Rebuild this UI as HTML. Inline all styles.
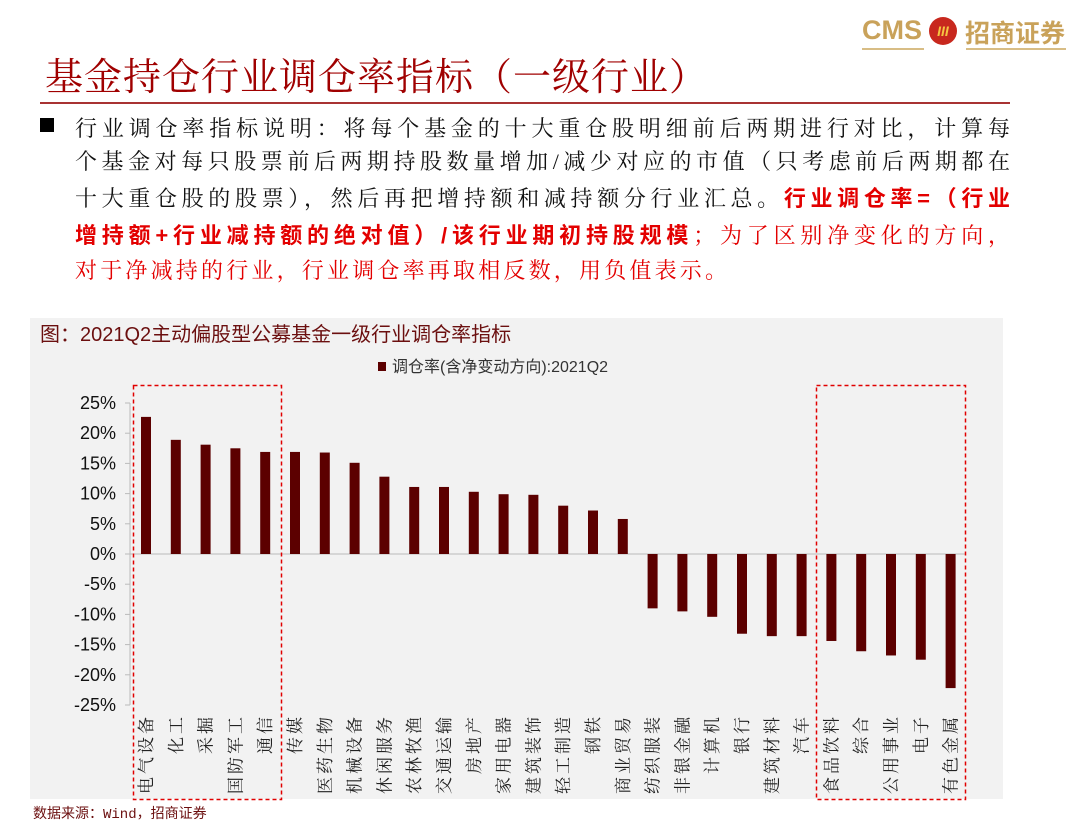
<!DOCTYPE html>
<html><head><meta charset="utf-8"><style>
body{margin:0;width:1080px;height:836px;background:#fff;position:relative;overflow:hidden;font-family:"Liberation Sans","Noto Sans CJK SC",sans-serif}
.t{position:absolute;white-space:nowrap}
.ln{position:absolute;left:75px;width:935px;font-size:22px;text-align:justify;text-align-last:justify;white-space:nowrap;color:#111;font-family:"Liberation Serif","Noto Serif CJK SC",serif}
.r{color:#e30000}
.b{font-weight:bold;font-family:"Liberation Sans","Noto Sans CJK SC",sans-serif}
</style></head><body>
<div class="t" style="left:862px;top:15px;font-size:27px;font-weight:bold;color:#c9a25a">CMS</div>
<div class="t" style="left:929px;top:17px;width:28px;height:28px;border-radius:50%;background:#c8281e;color:#f5c542;font-size:14px;text-align:center;line-height:28px;font-weight:bold;font-style:italic">III</div>
<div class="t" style="left:965px;top:15px;font-size:25px;font-weight:bold;color:#c9a25a;font-family:'Noto Sans CJK SC',sans-serif;line-height:34px">招商证券</div>
<div class="t" style="left:862px;top:48px;width:62px;height:2px;background:#d8bd85"></div>
<div class="t" style="left:966px;top:48px;width:100px;height:2px;background:#d8bd85"></div>
<div class="t" style="left:45px;top:50px;font-size:38px;color:#a00000;font-family:'Noto Serif CJK SC',serif;line-height:48px;letter-spacing:1px">基金持仓行业调仓率指标（一级行业）</div>
<div class="t" style="left:40px;top:102px;width:970px;height:2px;background:#a83232"></div>
<div class="t" style="left:40px;top:118px;width:14px;height:14px;background:#000"></div>
<div class="ln" style="top:112px">行业调仓率指标说明：将每个基金的十大重仓股明细前后两期进行对比，计算每</div>
<div class="ln" style="top:145px">个基金对每只股票前后两期持股数量增加/减少对应的市值（只考虑前后两期都在</div>
<div class="ln" style="top:181px">十大重仓股的股票），然后再把增持额和减持额分行业汇总。<span class="r b">行业调仓率=（行业</span></div>
<div class="ln r" style="top:218px"><span class="b">增持额+行业减持额的绝对值）/该行业期初持股规模</span>；为了区别净变化的方向，</div>
<div class="ln r" style="top:254px;text-align-last:left;letter-spacing:3.2px">对于净减持的行业，行业调仓率再取相反数，用负值表示。</div>
<svg class="t" style="left:0;top:0" width="1080" height="836">
<rect x="30" y="318" width="973" height="481" fill="#f2f2f2"/>
<text x="40" y="341" font-size="20" fill="#6b0f0f" font-family="Liberation Sans,Noto Sans CJK SC,sans-serif">图：2021Q2主动偏股型公募基金一级行业调仓率指标</text>
<rect x="378" y="362" width="8" height="9" fill="#5c0000"/>
<text x="392" y="372" font-size="16" fill="#333" font-family="Liberation Sans,Noto Sans CJK SC,sans-serif">调仓率(含净变动方向):2021Q2</text>
<g font-size="18" fill="#111" text-anchor="end" font-family="Liberation Sans,sans-serif" id="yax"></g>
<line x1="130" y1="403" x2="130" y2="705" stroke="#bbb"/>
<line x1="130" y1="554" x2="966" y2="554" stroke="#bbb"/>
<g id="bars"></g>
<g id="labs" font-size="17" fill="#222" font-family="Noto Serif CJK SC,serif"></g>
<rect x="133.5" y="385.5" width="148" height="414" fill="none" stroke="#e00000" stroke-width="1.5" stroke-dasharray="4,3"/>
<rect x="816.5" y="385.5" width="149" height="414" fill="none" stroke="#e00000" stroke-width="1.5" stroke-dasharray="4,3"/>
</svg>
<div class="t" style="left:33px;top:803px;font-size:14px;color:#6b0f0f;font-family:'Liberation Mono','Noto Sans CJK SC',monospace">数据来源：Wind，招商证券</div>
<script>
var ns="http://www.w3.org/2000/svg";
function el(n,a,p,t){var e=document.createElementNS(ns,n);for(var k in a)e.setAttribute(k,a[k]);if(t)e.textContent=t;document.getElementById(p).appendChild(e);}
for(var v=25;v>=-25;v-=5){var y=554-v*6.04;el("text",{x:116,y:y+6},"yax",v+"%");el("line",{x1:125,x2:130,y1:y,y2:y,stroke:"#bbb"},"yax");}
var d=[22.7,18.9,18.1,17.5,16.9,16.9,16.8,15.1,12.8,11.1,11.1,10.3,9.9,9.8,8.0,7.2,5.8,-9.0,-9.5,-10.4,-13.2,-13.6,-13.6,-14.4,-16.1,-16.8,-17.5,-22.2];
var L=["电气设备","化工","采掘","国防军工","通信","传媒","医药生物","机械设备","休闲服务","农林牧渔","交通运输","房地产","家用电器","建筑装饰","轻工制造","钢铁","商业贸易","纺织服装","非银金融","计算机","银行","建筑材料","汽车","食品饮料","综合","公用事业","电子","有色金属"];
for(var i=0;i<28;i++){var cx=146+i*29.8,h=Math.abs(d[i])*6.04;
el("rect",{x:cx-5,y:d[i]>0?554-h:554,width:10,height:h,fill:"#5c0000"},"bars");
el("text",{x:0,y:0,"text-anchor":"end","letter-spacing":"3",transform:"translate("+(cx+6)+",714) rotate(-90)"},"labs",L[i]);}
</script>
</body></html>
